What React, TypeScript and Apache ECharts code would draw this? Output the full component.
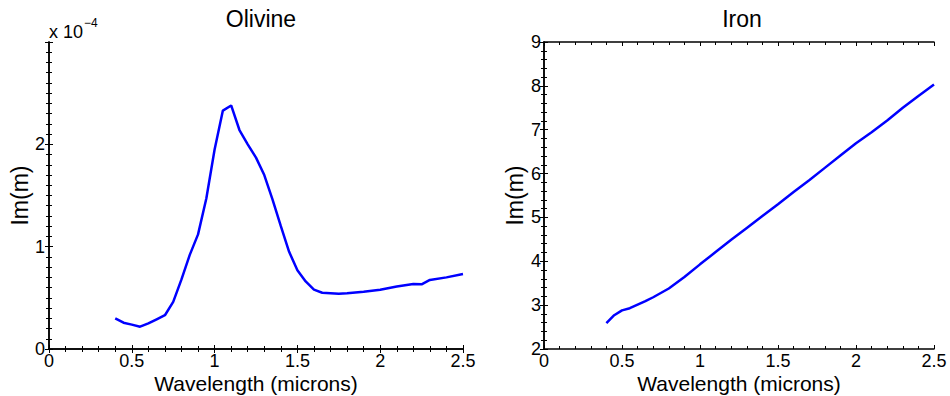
import React, { useEffect, useRef } from "react";
import * as echarts from "echarts";

// Olivine: wavelength (microns) vs Im(m) in units of 1e-4
const olivineWavelength = [
  0.4, 0.45, 0.5, 0.55, 0.6, 0.65, 0.7, 0.75, 0.8, 0.85, 0.9, 0.95, 1.0, 1.05,
  1.1, 1.15, 1.2, 1.25, 1.3, 1.35, 1.4, 1.45, 1.5, 1.55, 1.6, 1.65, 1.7, 1.75,
  1.8, 1.9, 2.0, 2.1, 2.2, 2.25, 2.3, 2.4, 2.5,
];
const olivineImM = [
  0.3, 0.257, 0.238, 0.218, 0.25, 0.29, 0.33, 0.46, 0.68, 0.92, 1.12, 1.47,
  1.95, 2.33, 2.38, 2.14, 2.0, 1.87, 1.7, 1.46, 1.2, 0.95, 0.77, 0.66, 0.58,
  0.55, 0.545, 0.54, 0.544, 0.56, 0.58, 0.61, 0.635, 0.632, 0.675, 0.7, 0.733,
];

// Iron: wavelength (microns) vs Im(m)
const ironWavelength = [
  0.4, 0.45, 0.5, 0.55, 0.6, 0.65, 0.7, 0.8, 0.9, 1.0, 1.1, 1.2, 1.3, 1.4, 1.5,
  1.6, 1.7, 1.8, 1.9, 2.0, 2.1, 2.2, 2.3, 2.4, 2.5,
];
const ironImM = [
  2.59, 2.77, 2.88, 2.93, 3.01, 3.09, 3.18, 3.38, 3.64, 3.93, 4.21, 4.49, 4.76,
  5.03, 5.3, 5.58, 5.85, 6.13, 6.41, 6.69, 6.94, 7.21, 7.5, 7.77, 8.03,
];

const titles = ["Olivine", "Iron"];
const xAxisName = "Wavelength (microns)";
const yAxisName = "Im(m)";
const scaleLabel = "x 10";
const scaleExp = "\u22124";

const FONT = "'Liberation Sans', Arial, Helvetica, sans-serif";

export default function App() {
  const ref = useRef<HTMLDivElement>(null);
  useEffect(() => {
    if (!ref.current) return;
    const chart = echarts.init(ref.current, undefined, { renderer: "svg" });
    const axisLine = { show: true, lineStyle: { color: "#000", width: 1.5 } };
    const tick = { show: true, inside: true, length: 4, lineStyle: { color: "#000", width: 1 } };
    const minor = (n: number) => ({ show: true, splitNumber: n, length: 3, lineStyle: { color: "#000", width: 1 } });
    const lbl = { color: "#000", fontSize: 18, fontFamily: FONT };
    const nameStyle = { color: "#000", fontSize: 23, fontFamily: FONT };
    const xNameStyle = { color: "#000", fontSize: 21, fontFamily: FONT };

    const xBase = (gridIndex: number) => ({
      type: "value" as const,
      gridIndex,
      min: 0,
      max: 2.5,
      interval: 0.5,
      axisLine,
      axisTick: tick,
      minorTick: minor(5),
      splitLine: { show: false },
    });

    const option: any = {
      animation: false,
      backgroundColor: "#fff",
      textStyle: { fontFamily: FONT },
      title: [
        { text: titles[0], left: 256, top: 2, textAlign: "center", textStyle: { ...nameStyle, fontWeight: "normal" } },
        { text: titles[1], left: 737, top: 2, textAlign: "center", textStyle: { ...nameStyle, fontWeight: "normal" } },
      ],
      grid: [
        { left: 49, top: 42, width: 414, height: 307, containLabel: false, outerBoundsMode: "none" },
        { left: 544, top: 42, width: 390, height: 307, containLabel: false, outerBoundsMode: "none" },
      ],
      xAxis: [
        {
          ...xBase(0),
          position: "bottom",
          name: xAxisName,
          nameLocation: "middle",
          nameGap: 24,
          nameMoveOverlap: false,
          nameTextStyle: xNameStyle,
          axisLabel: { ...lbl, margin: 3 },
        },
        { ...xBase(0), position: "top", axisLabel: { show: false } },
        {
          ...xBase(1),
          position: "bottom",
          name: xAxisName,
          nameLocation: "middle",
          nameGap: 24,
          nameMoveOverlap: false,
          nameTextStyle: xNameStyle,
          axisLabel: { ...lbl, margin: 3 },
        },
        { ...xBase(1), position: "top", axisLabel: { show: false } },
      ],
      yAxis: [
        {
          type: "value",
          gridIndex: 0,
          position: "left",
          min: 0,
          max: 3,
          interval: 1,
          name: yAxisName,
          nameLocation: "middle",
          nameGap: 18,
          nameTextStyle: nameStyle,
          axisLine,
          axisTick: tick,
          minorTick: minor(10),
          splitLine: { show: false },
          axisLabel: { ...lbl, margin: 4, formatter: (v: number) => (v >= 3 ? "" : String(v)) },
        },
        {
          type: "value",
          gridIndex: 0,
          position: "right",
          min: 0,
          max: 3,
          interval: 1,
          axisLine,
          axisTick: tick,
          minorTick: minor(10),
          splitLine: { show: false },
          axisLabel: { show: false },
        },
        {
          type: "value",
          gridIndex: 1,
          position: "left",
          min: 2,
          max: 9,
          interval: 1,
          name: yAxisName,
          nameLocation: "middle",
          nameGap: 18,
          nameTextStyle: nameStyle,
          axisLine,
          axisTick: tick,
          minorTick: minor(5),
          splitLine: { show: false },
          axisLabel: { ...lbl, margin: 3 },
        },
        {
          type: "value",
          gridIndex: 1,
          position: "right",
          min: 2,
          max: 9,
          interval: 1,
          axisLine,
          axisTick: tick,
          minorTick: minor(5),
          splitLine: { show: false },
          axisLabel: { show: false },
        },
      ],
      series: [
        {
          type: "line",
          xAxisIndex: 0,
          yAxisIndex: 0,
          data: olivineWavelength.map((x, i) => [x, olivineImM[i]]),
          showSymbol: false,
          lineStyle: { color: "#0000ff", width: 2.5 },
          silent: true,
        },
        {
          type: "line",
          xAxisIndex: 2,
          yAxisIndex: 2,
          data: ironWavelength.map((x, i) => [x, ironImM[i]]),
          showSymbol: false,
          lineStyle: { color: "#0000ff", width: 2.5 },
          silent: true,
        },
      ],
      graphic: [
        { type: "text", left: 49, top: 23, style: { text: scaleLabel, font: `18px ${FONT}`, fontSize: 18, fontFamily: FONT, fill: "#000" } },
        { type: "text", left: 84, top: 17, style: { text: scaleExp, font: `12px ${FONT}`, fontSize: 12, fontFamily: FONT, fill: "#000" } },
      ],
    };
    chart.setOption(option);
    return () => chart.dispose();
  }, []);
  return (
    <div
      ref={ref}
      style={{ position: "fixed", left: 0, top: 0, width: 950, height: 396 }}
    />
  );
}
